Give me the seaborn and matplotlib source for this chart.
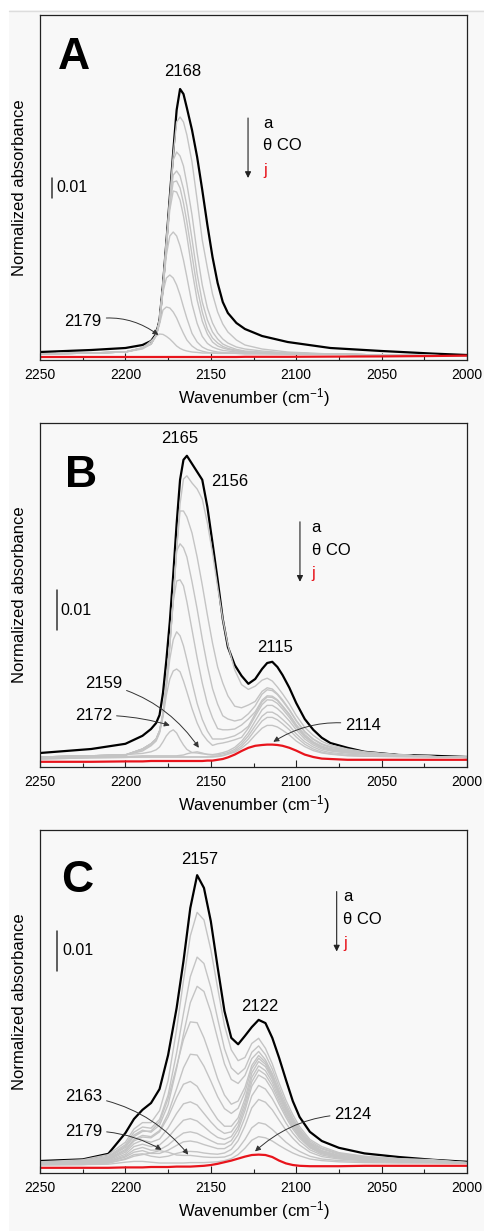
import numpy as np
import pandas as pd
import matplotlib
matplotlib.use('Agg')
import matplotlib.pyplot as plt
import seaborn as sns
from matplotlib.ticker import MultipleLocator
from matplotlib.patches import Rectangle
from matplotlib.lines import Line2D

# ---------------------------------------------------------------
# Spectra, absorbance in units of 1e-3
# (black = a, grey = intermediate coverages, red = j)
# ---------------------------------------------------------------

# --- panel A ---
wn_A = [2250, 2220, 2200, 2190, 2185, 2182, 2180, 2178, 2176, 2174, 2172, 2170, 2168, 2166, 2164, 2161,
        2158, 2155, 2152, 2149, 2146, 2143, 2140, 2135, 2130, 2120, 2105, 2080, 2050, 2020, 2000]
A_black = [4, 5, 6, 7.5, 9.5, 13, 20, 37.5, 59, 81.5, 104, 125, 135.5, 133, 126, 115,
           101.5, 85, 67.5, 51.5, 38.5, 29, 23.5, 18.5, 15.5, 12, 9, 6, 4.5, 3.2, 2.5]
A_red = [1.5, 1.5, 1.5, 1.5, 1.5, 1.5, 1.5, 1.5, 1.5, 1.5, 1.5, 1.5, 1.5, 1.5, 1.5, 1.5,
         1.5, 1.5, 1.5, 1.5, 1.5, 1.5, 1.5, 1.5, 1.6, 1.6, 1.6, 1.7, 1.8, 2, 2.2]
A_grey = [
    [3, 3.5, 4, 6, 8, 12.5, 19.5, 36.5, 58, 80, 102.5, 119, 121.5, 119, 112.5, 99, 80, 60, 46, 33, 24, 18, 14, 10, 7.5, 5.5, 4, 3, 2.5, 2.2, 2],
    [3, 3.5, 4, 6, 8, 12.5, 19.5, 36.5, 58, 80, 100, 104, 102, 97, 88, 72.5, 53.5, 37.5, 26, 18.5, 13.5, 10.5, 8.5, 6.5, 5.5, 4.5, 3.5, 3, 2.5, 2.2, 2],
    [3, 3.5, 4, 6, 8, 12.5, 19.5, 36.5, 58, 79, 92.5, 94.5, 92, 85.5, 77, 60.5, 43, 29, 20, 14, 10.5, 8, 6.8, 5.3, 4.5, 4, 3.3, 3, 2.5, 2.2, 2],
    [3, 3.5, 4, 6, 8, 12.5, 19.5, 36.5, 58, 77.5, 89, 89.5, 86, 78.5, 69, 52.5, 36, 24, 15.5, 11, 8.5, 6.8, 5.8, 4.8, 4, 3.5, 3.3, 3, 2.5, 2.2, 2],
    [3, 3.5, 4, 6, 8, 12.5, 19.5, 36.5, 57, 75, 84.5, 84, 80, 72, 62, 45, 30, 19.5, 13, 9, 7, 6, 5.3, 4.5, 4, 3.5, 3.3, 3, 2.5, 2.2, 2],
    [3, 3.5, 4, 6, 8, 12.5, 19.5, 36, 52.5, 62, 64, 62, 57, 50, 41.5, 28, 18.3, 11.8, 8.3, 6.5, 5.5, 4.8, 4.5, 4, 3.8, 3.5, 3.3, 3, 2.5, 2.2, 2],
    [3, 3.5, 4, 6, 8, 12.5, 19, 34, 41, 42.5, 41, 37.5, 32.5, 26.5, 20.8, 13.3, 9, 6.5, 5.2, 4.5, 4, 3.8, 3.5, 3.5, 3.3, 3.3, 3, 3, 2.5, 2.2, 2],
    [3, 3.5, 4, 5.5, 8, 12, 18, 25, 26.5, 26, 24, 21, 17, 13.3, 10, 7, 5.2, 4.4, 3.8, 3.5, 3.3, 3.3, 3.3, 3.3, 3, 3, 3, 3, 2.5, 2.2, 2],
    [3, 3.5, 4, 6, 9.5, 12, 13, 12.8, 11.8, 10.5, 8.8, 7, 5.8, 5, 4.5, 4, 3.8, 3.5, 3.5, 3.5, 3.5, 3.5, 3.5, 3.3, 3.3, 3.3, 3, 3, 2.5, 2.2, 2],
]

# --- panel B ---
wn_B = [2250, 2220, 2200, 2190, 2185, 2182, 2180, 2178, 2176, 2174, 2172, 2170, 2168, 2166, 2164,
        2161, 2158, 2155, 2152, 2149, 2146, 2143, 2140, 2136, 2132, 2128, 2124, 2120, 2117, 2114,
        2111, 2108, 2104, 2100, 2095, 2090, 2085, 2080, 2070, 2060, 2040, 2020, 2000]
B_black = [3.5, 4.5, 5.8, 7.8, 9.5, 11, 13, 18.5, 26.8, 36.3, 48, 60.8, 71.8, 76.8, 77.8,
           75.8, 73.8, 71.8, 65, 56, 46.8, 37, 30, 25.5, 22.8, 20.8, 22, 24.5, 26, 26.3,
           25, 23, 19.8, 16, 12, 9.3, 7.3, 6, 4.8, 3.8, 3, 2.8, 2.5]
B_red = [1.3, 1.3, 1.4, 1.4, 1.5, 1.5, 1.5, 1.5, 1.5, 1.5, 1.5, 1.5, 1.5, 1.5, 1.5,
         1.5, 1.5, 1.5, 1.6, 1.6, 1.8, 2, 2.4, 3.1, 4, 4.8, 5.3, 5.5, 5.6, 5.6,
         5.5, 5.3, 4.8, 4.1, 3.1, 2.5, 2.1, 2, 1.8, 1.8, 1.8, 1.8, 1.8]
B_grey = [
    [2.5, 2.8, 3, 4.5, 5.8, 7, 9, 13.3, 20.8, 30.5, 42, 54.5, 65.8, 72, 72.8, 71, 69.5, 67, 61, 53.5, 45, 37,
     30.5, 24.3, 20.6, 19.4, 20.2, 21.7, 22.2, 21.5, 20, 18.3, 15.8, 12.9, 9.9, 7.9, 6.4, 5.5, 4.5, 3.8, 3, 2.6, 2.4],
    [2.5, 2.8, 3, 4.5, 5.8, 7, 9, 13.3, 20.8, 30.5, 42, 54.5, 64, 64, 62.5, 58.5, 52.5, 45.5, 38, 31, 25, 21,
     17.8, 15.2, 14.8, 15.5, 16.4, 18.9, 19.8, 19.5, 18.3, 16.8, 14.4, 11.7, 8.9, 7, 5.8, 5.1, 4.3, 3.6, 3, 2.6, 2.4],
    [2.5, 2.8, 3, 4.5, 5.8, 7, 9, 13.3, 20.8, 30.5, 42, 54, 55.8, 54.8, 52.5, 46.3, 39.5, 32, 25.3, 19.6, 15.7, 12.8,
     12, 11.5, 11.9, 13.3, 15.3, 18.2, 19.3, 19.1, 18.1, 16.5, 14.2, 11.5, 8.7, 6.9, 5.6, 4.9, 4.1, 3.6, 3, 2.6, 2.4],
    [2.5, 2.8, 3, 4.5, 5.8, 7, 9, 13.3, 20.8, 30.5, 41.3, 46.5, 46.8, 45.3, 41.3, 34.3, 27.3, 21, 15.8, 12.3, 9.6, 9.3,
     9.3, 9.5, 10.5, 12, 13.8, 16.7, 17.8, 17.7, 16.8, 15.3, 13.2, 10.6, 8.1, 6.3, 5.2, 4.6, 4, 3.6, 3, 2.6, 2.4],
    [2.5, 2.8, 3, 4.3, 5.5, 6.8, 8.8, 13, 20, 27, 31.8, 33.8, 32.8, 30.3, 26.8, 21.2, 15.9, 11.9, 9, 7, 7, 7,
     7.3, 7.8, 8.8, 10.2, 13.3, 16.3, 17.5, 17.4, 16.6, 15.1, 13, 10.4, 7.8, 6.1, 5, 4.4, 3.8, 3.4, 3, 2.6, 2.4],
    [2.5, 2.8, 3, 4, 5.3, 6.5, 8.5, 12.5, 18, 22, 24, 24.5, 23.8, 21.5, 18.8, 14.6, 11, 8.3, 6.6, 5.4, 5.8, 6,
     6.3, 6.8, 7.4, 9.7, 12.7, 15.6, 16.8, 16.7, 15.9, 14.5, 12.4, 10, 7.5, 5.9, 4.8, 4.2, 3.6, 3.3, 3, 2.6, 2.4],
    [2.5, 2.8, 3.1, 3.4, 3.8, 4.3, 5, 6.3, 7.8, 8.8, 9.3, 8.5, 6.9, 5.5, 4.4, 3.6, 3.5, 3.3, 3.2, 3.1, 3.3, 3.6,
     4, 4.9, 6.4, 8.6, 11.5, 14.3, 15.4, 15.4, 14.6, 13.4, 11.5, 9.3, 7, 5.5, 4.5, 4, 3.5, 3.3, 3, 2.6, 2.4],
    [2.3, 2.5, 2.6, 2.8, 2.8, 2.8, 2.8, 2.8, 2.8, 2.8, 2.8, 2.8, 2.9, 3, 3.3, 3.6, 3.8, 3.5, 3.1, 3, 3, 3.3,
     3.6, 4.4, 5.8, 7.8, 10.3, 12.7, 13.7, 13.7, 13, 11.9, 10.3, 8.3, 6.3, 5, 4.1, 3.6, 3.2, 3, 2.8, 2.6, 2.4],
    [2, 2.3, 2.4, 2.5, 2.5, 2.5, 2.5, 2.5, 2.5, 2.5, 2.5, 2.5, 2.5, 2.5, 2.5, 2.5, 2.5, 2.5, 2.5, 2.6, 2.7, 2.9,
     3.3, 4, 5.2, 7, 9.3, 11.5, 12.4, 12.4, 11.8, 10.8, 9.3, 7.5, 5.7, 4.5, 3.7, 3.3, 2.9, 2.7, 2.6, 2.5, 2.4],
    [2, 2.3, 2.4, 2.5, 2.5, 2.5, 2.5, 2.5, 2.5, 2.5, 2.5, 2.5, 2.5, 2.5, 2.5, 2.5, 2.5, 2.5, 2.5, 2.5, 2.6, 2.8,
     3.2, 3.7, 4.7, 6.1, 8, 9.7, 10.4, 10.4, 10, 9.2, 8, 6.5, 5.1, 4.1, 3.5, 3.2, 2.8, 2.7, 2.6, 2.5, 2.4],
]

# --- panel C ---
wn_C = [2250, 2225, 2210, 2200, 2195, 2190, 2185, 2180, 2175, 2170, 2166, 2162, 2158, 2154, 2150, 2146, 2142, 2138,
        2134, 2130, 2126, 2122, 2118, 2114, 2110, 2106, 2102, 2098, 2092, 2085, 2075, 2060, 2040, 2020, 2000]
C_black = [3, 3.4, 4.8, 10, 13.5, 15.8, 17.5, 21, 29.5, 41.3, 53, 66.3, 74.5, 71.3, 63, 51.5, 40.5, 33.8,
           32.2, 34.3, 36.5, 38.3, 37.5, 33.8, 28.8, 23.3, 18, 14, 10.3, 8, 6.3, 4.9, 4, 3.3, 2.8]
C_red = [1.3, 1.3, 1.3, 1.4, 1.4, 1.4, 1.5, 1.5, 1.5, 1.6, 1.6, 1.6, 1.7, 1.8, 2, 2.3, 2.7, 3.1,
         3.6, 4.1, 4.5, 4.6, 4.5, 4, 3.1, 2.4, 2, 1.8, 1.7, 1.7, 1.7, 1.8, 1.8, 1.8, 1.8]
C_grey = [
    [2.8, 3.3, 4.6, 7.7, 11, 12.6, 12.6, 15.6, 23.1, 36, 48.1, 59.3, 65.2, 63.3, 55.9, 46.3, 36.9, 30.8,
     28.1, 28.9, 32.4, 33.7, 31.2, 27.3, 22.5, 18.2, 14.6, 11.6, 8.4, 6.6, 5.1, 4.2, 3.6, 3.3, 2.6],
    [2.6, 3.1, 4.2, 7.1, 10.2, 11.5, 11.2, 13.4, 19.5, 30.1, 39.9, 49.1, 54, 52.4, 46.4, 38.6, 31.1, 26.3,
     24.7, 26.2, 30.2, 31.8, 29.6, 26, 21.4, 17.3, 13.8, 11, 8, 6.2, 4.9, 4, 3.5, 3.2, 2.6],
    [2.5, 3, 4, 6.7, 9.5, 10.7, 10.2, 12, 17.1, 26.2, 34.7, 42.6, 46.7, 45.4, 40.3, 33.6, 27.3, 23.4,
     22.4, 24.4, 28.6, 30.4, 28.3, 24.9, 20.5, 16.6, 13.3, 10.6, 7.6, 6, 4.7, 3.9, 3.4, 3.1, 2.6],
    [2.5, 2.9, 3.8, 6.4, 9.1, 10.4, 10.5, 12.8, 18.6, 26.7, 33.4, 37.8, 37.6, 33.8, 28.9, 23.6, 19.5, 17.2,
     18, 21.4, 26.9, 29.4, 27.7, 24.4, 20.2, 16.3, 13, 10.3, 7.4, 5.6, 4.4, 3.7, 3.3, 3.1, 2.5],
    [2.4, 2.7, 3.6, 5.9, 8.4, 9.4, 9.1, 10.6, 14.9, 21.1, 26.3, 29.7, 29.5, 26.7, 23, 19.1, 16.1, 14.9,
     16.2, 20.2, 26.1, 28.7, 27.2, 24, 19.8, 15.9, 12.7, 10.1, 7.2, 5.5, 4.4, 3.7, 3.2, 3, 2.5],
    [2.3, 2.6, 3.4, 5.6, 8, 9, 8.8, 10.3, 14, 18.9, 22.2, 22.9, 21.7, 18.8, 16, 13.4, 11.7, 11.7,
     13.8, 18.6, 25, 27.9, 26.6, 23.5, 19.4, 15.6, 12.4, 9.8, 7, 5.3, 4.2, 3.6, 3.2, 3, 2.5],
    [2.3, 2.5, 3.2, 5.2, 7.3, 8.2, 7.7, 8.5, 11.3, 14.9, 17.3, 17.8, 17, 14.9, 12.8, 11, 9.9, 10.3,
     12.7, 17.6, 23.9, 26.8, 25.6, 22.7, 18.7, 15, 11.9, 9.4, 6.7, 5.2, 4.1, 3.5, 3.1, 2.9, 2.5],
    [2.2, 2.4, 3, 4.7, 6.6, 7.2, 6.6, 7, 8.9, 11.4, 13.2, 13.6, 13, 11.6, 10.1, 8.9, 8.4, 9.1,
     11.7, 16.6, 22.8, 25.8, 24.6, 21.8, 18, 14.5, 11.5, 9.1, 6.5, 5, 4, 3.4, 3.1, 2.9, 2.5],
    [2.2, 2.3, 2.8, 4.3, 5.8, 6.4, 5.7, 5.8, 7, 8.8, 10, 10.3, 9.9, 9, 8.1, 7.3, 7.2, 8.1,
     10.8, 15.6, 21.7, 24.5, 23.5, 20.8, 17.2, 13.9, 11, 8.7, 6.3, 4.8, 3.9, 3.3, 3, 2.8, 2.5],
    [2.2, 2.2, 2.7, 4, 5.2, 5.6, 4.9, 4.9, 5.7, 6.9, 7.8, 8, 7.7, 7.1, 6.6, 6.1, 6.1, 7.1,
     9.6, 13.9, 19.3, 21.9, 21, 18.6, 15.5, 12.5, 10, 8, 5.8, 4.5, 3.7, 3.2, 2.9, 2.8, 2.5],
    [2.1, 2.2, 2.5, 3.6, 4.6, 4.8, 4.2, 3.9, 4.2, 4.9, 5.3, 5.4, 5.3, 5, 4.8, 4.7, 5, 5.9,
     8.1, 11.8, 16.3, 18.4, 17.7, 15.8, 13.2, 10.7, 8.7, 7, 5.2, 4.1, 3.5, 3.1, 2.8, 2.7, 2.5],
    [2.1, 2.1, 2.5, 3.4, 4.2, 4.6, 5, 5.6, 5.2, 4.5, 4.4, 4.4, 4.2, 4, 3.9, 3.9, 4, 4.6,
     6.1, 8.4, 11.3, 12.6, 12.2, 10.9, 9.3, 7.7, 6.4, 5.4, 4.2, 3.5, 3.1, 2.9, 2.7, 2.6, 2.5],
    [2, 2.1, 2.2, 2.7, 2.9, 2.9, 2.7, 2.5, 2.5, 2.5, 2.5, 2.6, 2.6, 2.6, 2.7, 2.8, 3.1, 3.6,
     4.6, 6.2, 8.2, 9.1, 8.8, 8, 6.9, 5.9, 5, 4.3, 3.5, 3.1, 2.8, 2.6, 2.5, 2.5, 2.4],
]

GREY = '#c4c4c4'
RED = '#e8141c'

sns.set_theme(style='ticks')
plt.rcParams['font.family'] = ['Liberation Sans', 'DejaVu Sans']
plt.rcParams['mathtext.default'] = 'regular'
plt.rcParams['text.color'] = 'black'
plt.rcParams['axes.labelcolor'] = 'black'


def to_frame(wn, curves):
    parts = []
    for i, c in enumerate(curves):
        parts.append(pd.DataFrame({'wn': wn, 'A': np.array(c) / 1000.0, 'curve': i}))
    return pd.concat(parts, ignore_index=True)


def draw_panel(ax, wn, black, red, greys, ytop, letter, letter_xy, bar, legend):
    sns.lineplot(data=to_frame(wn, [black]), x='wn', y='A', color='black', lw=1.6,
                 estimator=None, ax=ax, legend=False)
    sns.lineplot(data=to_frame(wn, greys), x='wn', y='A', units='curve', estimator=None,
                 color=GREY, lw=1.0, ax=ax, legend=False)
    sns.lineplot(data=to_frame(wn, [red]), x='wn', y='A', color=RED, lw=1.6,
                 estimator=None, ax=ax, legend=False)

    ax.set_xlim(2250, 2000)
    ax.set_ylim(0, ytop)
    ax.set_yticks([])
    ax.xaxis.set_major_locator(MultipleLocator(50))
    ax.xaxis.set_minor_locator(MultipleLocator(25))
    ax.tick_params(axis='x', which='major', direction='in', length=5, width=0.8,
                   labelsize=10, pad=6, colors='#222222', labelcolor='black')
    ax.tick_params(axis='x', which='minor', direction='in', length=3, width=0.8, colors='#222222')
    for s in ax.spines.values():
        s.set_color('#222222')
        s.set_linewidth(0.9)
    ax.set_facecolor('#f8f8f8')
    ax.set_xlabel('Wavenumber (cm$^{-1}$)', fontsize=12, labelpad=3)
    ax.set_ylabel('Normalized absorbance', fontsize=12)
    ax.yaxis.set_label_coords(-0.03, 0.5)

    ax.text(letter_xy[0], letter_xy[1], letter, transform=ax.transAxes, fontsize=32,
            fontweight='bold', ha='left', va='top')

    # 0.01 scale bar
    bx, by, lx = bar
    ax.plot([bx, bx], [by, by + 0.01], color='#333333', lw=1.1)
    ax.text(lx, by + 0.005, '0.01', fontsize=11.5, ha='left', va='center')

    # coverage arrow a -> j
    ax_x, y_start, y_end, tx, ya, yth, yj = legend
    ax.annotate('', xy=(ax_x, y_end), xytext=(ax_x, y_start),
                arrowprops=dict(arrowstyle='-|>', color='#222222', lw=0.8,
                                mutation_scale=9, shrinkA=0, shrinkB=0))
    ax.text(tx, ya, 'a', fontsize=12, ha='left', va='center')
    ax.text(tx, yth, '\u03b8 CO', fontsize=12, ha='left', va='center')
    ax.text(tx, yj, 'j', fontsize=12, ha='left', va='center', color=RED)


def label(ax, text, x, y):
    ax.text(x, y, text, fontsize=12, ha='center', va='center')


def pointer(ax, text, xy_text, xy_tip, rad):
    ax.annotate(text, xy=xy_tip, xytext=xy_text, fontsize=12, ha='center', va='center',
                arrowprops=dict(arrowstyle='-|>', color='#333333', lw=0.7, mutation_scale=8,
                                shrinkA=1, shrinkB=0, connectionstyle=f'arc3,rad={rad}'))


W, H = 484, 1231
fig = plt.figure(figsize=(W / 100, H / 100), dpi=100)
fig.patch.set_facecolor('#f8f8f8')
fig.add_artist(Rectangle((0, 1 - 10 / H), 1, 10 / H, transform=fig.transFigure,
                         facecolor='white', edgecolor='none'))
fig.add_artist(Rectangle((0, 0), 9 / W, 1, transform=fig.transFigure,
                         facecolor='white', edgecolor='none'))
fig.add_artist(Line2D([9 / W, 1], [1 - 11 / H, 1 - 11 / H], transform=fig.transFigure,
                      color='#dddddd', lw=1))


def frame(top, bottom):
    return [40 / W, (H - bottom) / H, 427 / W, (bottom - top) / H]


axA = fig.add_axes(frame(15, 360))
axB = fig.add_axes(frame(423, 767))
axC = fig.add_axes(frame(830, 1173))

# panel A
draw_panel(axA, wn_A, A_black, A_red, A_grey, 0.1725, 'A', (0.042, 0.935),
           (2243, 0.081, 2240.5),
           (2128.2, 0.121, 0.091, 2119.4, 0.1185, 0.107, 0.095))
label(axA, '2168', 2166.3, 0.144)
pointer(axA, '2179', (2224.8, 0.019), (2180.7, 0.0125), -0.25)

# panel B
draw_panel(axB, wn_B, B_black, B_red, B_grey, 0.086, 'B', (0.059, 0.907),
           (2240.2, 0.0342, 2238.3),
           (2097.8, 0.0613, 0.0463, 2090.9, 0.060, 0.0542, 0.0484))
label(axB, '2165', 2168, 0.0821)
label(axB, '2156', 2138.8, 0.0713)
label(axB, '2115', 2112.4, 0.030)
pointer(axB, '2159', (2212.9, 0.0208), (2157.0, 0.0048), -0.2)
pointer(axB, '2172', (2218.8, 0.0129), (2174.0, 0.0104), -0.08)
pointer(axB, '2114', (2060.7, 0.0104), (2113.4, 0.0063), 0.2)

# panel C
draw_panel(axC, wn_C, C_black, C_red, C_grey, 0.0858, 'C', (0.05, 0.913),
           (2240.2, 0.0506, 2237.0),
           (2076.3, 0.0704, 0.0554, 2072.4, 0.0692, 0.0633, 0.0575))
label(axC, '2157', 2156.3, 0.0783)
label(axC, '2122', 2121.2, 0.0417)
pointer(axC, '2163', (2224.6, 0.0192), (2163.2, 0.0046), -0.2)
pointer(axC, '2179', (2224.6, 0.0104), (2178.8, 0.0058), -0.15)
pointer(axC, '2124', (2066.6, 0.0146), (2124.1, 0.0054), 0.2)

fig.savefig('out.png', dpi=100, facecolor=fig.get_facecolor())
